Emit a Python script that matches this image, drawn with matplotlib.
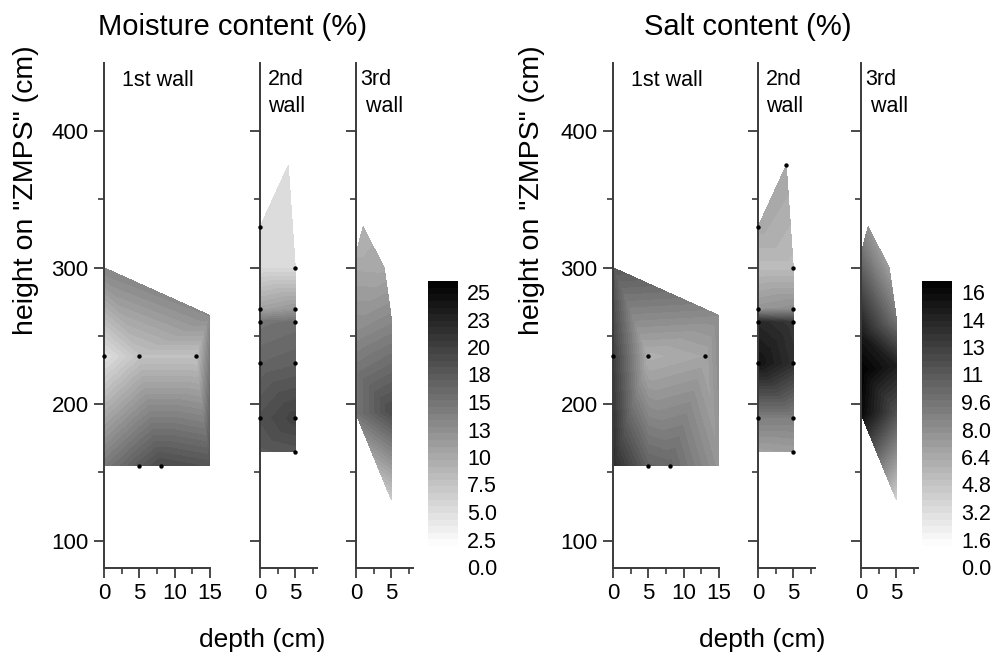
import numpy as np
import matplotlib
matplotlib.use('Agg')
import matplotlib.pyplot as plt
import matplotlib.tri as mtri
from matplotlib.colors import LinearSegmentedColormap

plt.rcParams['font.family'] = ['Liberation Sans', 'DejaVu Sans']

# ---------------- data ----------------
# 1st wall measurement points (depth cm, height cm)
w1_x = [0, 15, 0, 5, 13, 0, 5, 8, 15]
w1_y = [300, 265, 235, 235, 235, 155, 155, 155, 155]
w1_moist = [11.8, 11.3, 3.0, 6.0, 6.0, 13.0, 16.0, 17.6, 16.7]
w1_salt = [10.4, 7.2, 12.0, 5.0, 5.6, 13.2, 9.7, 9.4, 6.6]
w1_mark = [0, 0, 1, 1, 1, 0, 1, 1, 0]
# triangle connectivity (point indices) of the interpolation mesh
w1_tri = [[0, 2, 3], [0, 3, 1], [3, 4, 1], [4, 8, 1],
          [2, 5, 3], [3, 5, 6], [3, 6, 7], [3, 7, 4], [4, 7, 8]]

# 2nd wall
w2_x = [0, 4, 5, 0, 0, 5, 0, 5, 0, 5, 0, 5, 0, 5]
w2_y = [330, 375, 300, 300, 270, 270, 260, 260, 230, 230, 190, 190, 165, 165]
w2_moist = [3.4, 3.4, 3.6, 3.6, 9.0, 10.0, 13.5, 14.0, 15.0, 15.5, 17.0, 18.5, 16.0, 16.5]
w2_salt = [5.4, 5.6, 4.2, 4.2, 6.6, 7.0, 13.5, 12.5, 14.8, 13.0, 8.0, 8.0, 5.8, 6.0]
w2_mark_moist = [1, 0, 1, 0, 1, 1, 1, 1, 1, 1, 1, 1, 0, 1]
w2_mark_salt = [1, 1, 1, 0, 1, 1, 1, 1, 1, 1, 1, 1, 0, 1]

# 3rd wall
w3_x = [1, 0, 4, 5, 0, 0, 5, 5, 0, 5]
w3_y = [330, 310, 300, 263, 250, 225, 228, 195, 193, 130]
w3_moist = [7.8, 8.0, 8.5, 11.5, 11.5, 13.5, 14.5, 17.5, 13.5, 5.0]
w3_salt = [6.6, 9.0, 6.0, 8.5, 14.5, 16.0, 14.0, 11.0, 15.5, 2.8]
w3_mark = [0] * 10

moist_ticks = [0, 2.5, 5, 7.5, 10, 12.5, 15, 17.5, 20, 22.5, 25]
moist_labels = ['0.0', '2.5', '5.0', '7.5', '10', '13', '15', '18', '20', '23', '25']
salt_ticks = [0, 1.6, 3.2, 4.8, 6.4, 8.0, 9.6, 11.2, 12.8, 14.4, 16]
salt_labels = ['0.0', '1.6', '3.2', '4.8', '6.4', '8.0', '9.6', '11', '13', '14', '16']

wall_names = ['1st wall', '2nd\nwall', '3rd\n wall']

# ---------------- layout ----------------
W, H = 997, 655
fig = plt.figure(figsize=(W / 100, H / 100), dpi=100)


def rect(x0, x1, ytop, ybot):
    return [x0 / W, (H - ybot) / H, (x1 - x0) / W, (ybot - ytop) / H]


cmap = LinearSegmentedColormap.from_list('wb', ['#ffffff', '#000000'])
SP = '#3a3a3a'


def style_axis(ax, xmax, xmaj, xmin, show_ylabels):
    ax.set_xlim(0, xmax)
    ax.set_ylim(80, 450)
    for s in ['top', 'right']:
        ax.spines[s].set_visible(False)
    for s in ['left', 'bottom']:
        ax.spines[s].set_color(SP)
        ax.spines[s].set_linewidth(1.4)
    ax.set_xticks(xmaj)
    ax.set_xticks(xmin, minor=True)
    ax.set_yticks([100, 200, 300, 400])
    ax.set_yticks([150, 250, 350], minor=True)
    ax.tick_params(which='major', direction='out', length=7, width=1.3,
                   color=SP, labelsize=16, pad=4)
    ax.tick_params(which='minor', direction='out', length=4, width=1.2, color=SP)
    ax.set_xticklabels([str(v) for v in xmaj])
    if not show_ylabels:
        ax.set_yticklabels([])
    ax.patch.set_alpha(0)


def draw_group(xpix, cb_x, values, mark_sets, vmax, ticks, labels, title,
               title_x, ylab_x, xlab_x):
    levels = np.linspace(0, vmax, 41)
    walls = [(w1_x, w1_y, w1_tri), (w2_x, w2_y, None), (w3_x, w3_y, None)]
    xmaxes = [15, 8, 8]
    xmajs = [[0, 5, 10, 15], [0, 5], [0, 5]]
    xmins = [[2.5, 7.5, 12.5], [2.5, 7.5], [2.5, 7.5]]
    text_x = [2.5, 1.1, 0.6]
    cs = None
    for i, ((wx, wy, wt), vals, marks) in enumerate(zip(walls, values, mark_sets)):
        x0 = xpix[i]
        x1 = x0 + xmaxes[i] * 106 / 15
        ax = fig.add_axes(rect(x0, x1, 63, 568))
        tri = mtri.Triangulation(np.array(wx, float), np.array(wy, float), wt)
        cs = ax.tricontourf(tri, np.array(vals, float), levels=levels, cmap=cmap,
                            vmin=0, vmax=vmax)
        mx = [a for a, m in zip(wx, marks) if m]
        my = [b for b, m in zip(wy, marks) if m]
        if mx:
            ax.scatter(mx, my, s=10, color='black', zorder=5, clip_on=False,
                       linewidths=0)
        style_axis(ax, xmaxes[i], xmajs[i], xmins[i], i == 0)
        ax.text(text_x[i], 428 if i > 0 else 437, wall_names[i], fontsize=15.5,
                ha='left', va='center', linespacing=1.4)
    # colorbar
    cax = fig.add_axes(rect(cb_x, cb_x + 30, 281, 546))
    cb = fig.colorbar(cs, cax=cax)
    cb.outline.set_visible(False)
    cb.set_ticks([])
    cax.tick_params(length=0)
    lab = fig.add_axes(rect(cb_x + 30, cb_x + 31, 292, 567))
    lab.set_ylim(0, vmax)
    lab.set_xticks([])
    for s in lab.spines.values():
        s.set_visible(False)
    lab.yaxis.tick_right()
    lab.set_yticks(ticks)
    lab.set_yticklabels(labels)
    lab.tick_params(axis='y', length=0, pad=6, labelsize=15.5)
    lab.patch.set_alpha(0)
    fig.text(title_x / W, 1 - 27 / H, title, ha='center', va='center', fontsize=21)
    fig.text(ylab_x / W, 1 - 190 / H, 'height on "ZMPS" (cm)', rotation=90,
             ha='center', va='center', fontsize=20.5)
    fig.text(xlab_x / W, 1 - 640 / H, 'depth (cm)', ha='center', va='center',
             fontsize=19)


draw_group([104, 260, 356], 428, [w1_moist, w2_moist, w3_moist],
           [w1_mark, w2_mark_moist, w3_mark], 25, moist_ticks, moist_labels,
           'Moisture content (%)', 232, 26, 262)
draw_group([613, 758, 861], 922, [w1_salt, w2_salt, w3_salt],
           [w1_mark, w2_mark_salt, w3_mark], 16, salt_ticks, salt_labels,
           'Salt content (%)', 748, 532, 762)

fig.savefig('out.png', dpi=100)
